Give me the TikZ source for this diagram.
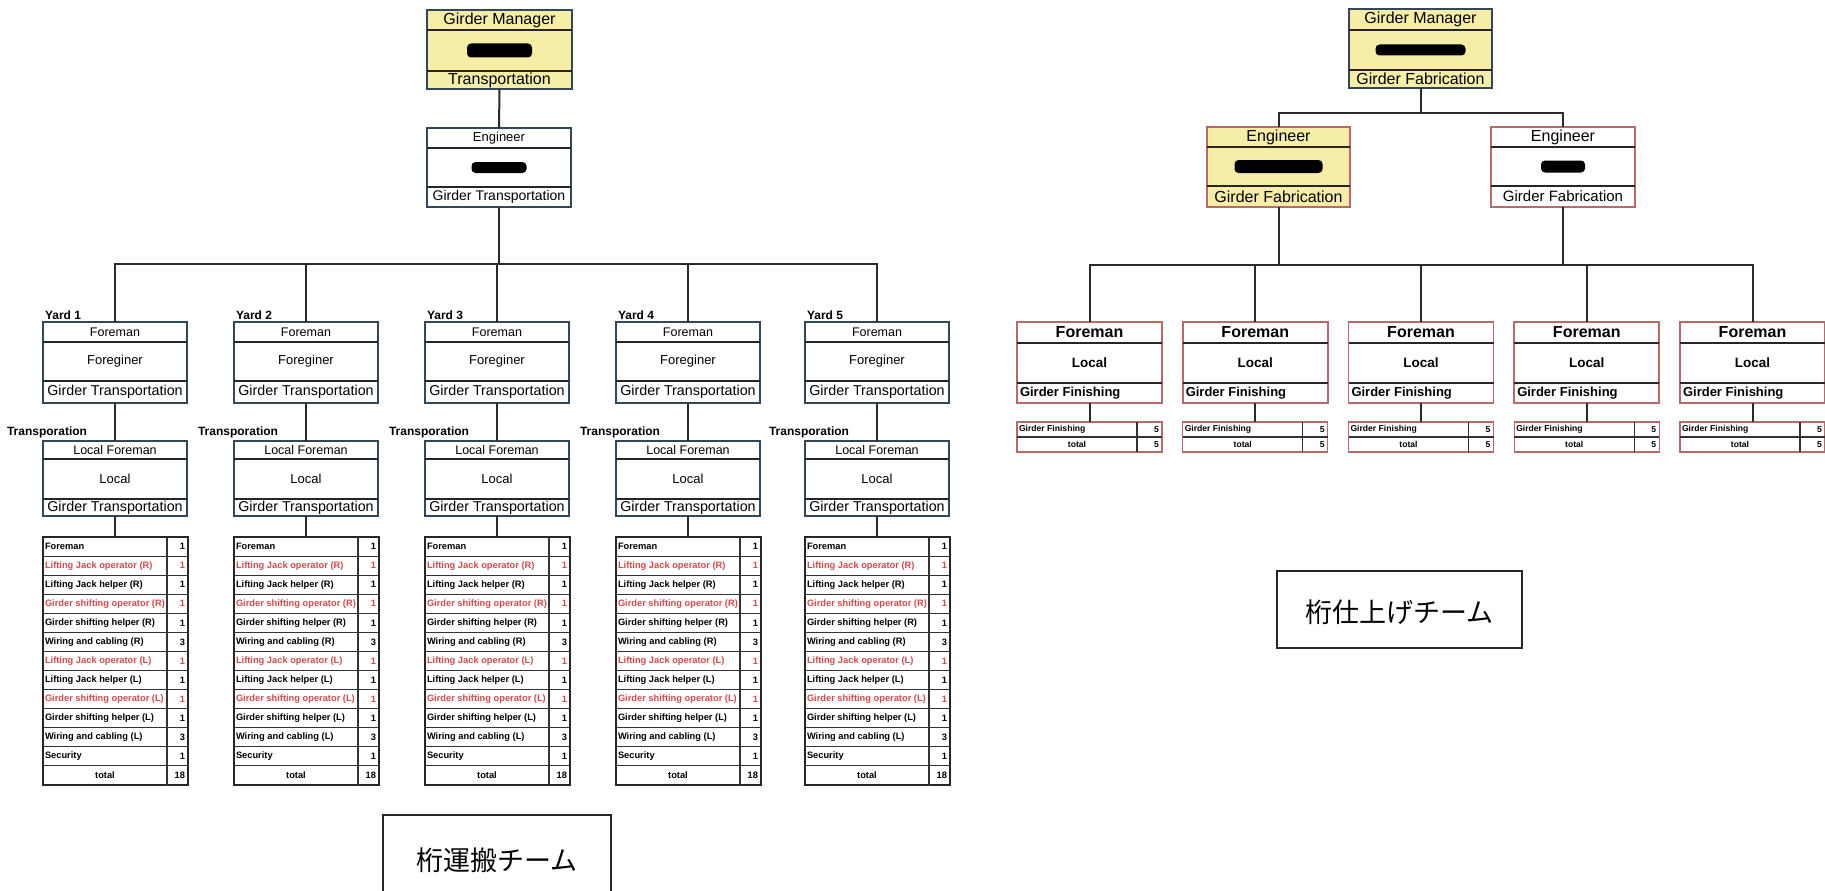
\documentclass[tikz,border=0pt]{standalone}
\usepackage{fontspec}
\setmainfont{Liberation Sans}
\newfontfamily\jpfont{Noto Sans CJK JP}
\definecolor{yfill}{HTML}{F6EEA6}
\definecolor{lborder}{HTML}{33475B}
\definecolor{rborder}{HTML}{B86A6A}
\definecolor{redtxt}{HTML}{D44A4A}
\definecolor{connc}{HTML}{2A2A2A}
\newcommand\FS[1]{\fontsize{#1}{#1}\selectfont}
\newcommand\TriFrame[8]{%
  \node[#2, minimum width=#5, minimum height=#6+#7+#8] (#1) at (#3,#4) {};
  \draw[divline] ([yshift=-#6]#1.north west) -- ([yshift=-#6]#1.north east);
  \draw[divline] ([yshift=-#6-#7]#1.north west) -- ([yshift=-#6-#7]#1.north east);
  \coordinate (#1-r1) at ([yshift=-#6/2]#1.north);
  \coordinate (#1-r2) at ([yshift=-#6-#7/2]#1.north);
  \coordinate (#1-r3) at ([yshift=-#6-#7-#8/2]#1.north);
  \coordinate (#1-w3) at ([xshift=3,yshift=-#6-#7-#8/2]#1.north west);
}
\begin{document}
\begin{tikzpicture}[x=1pt,y=-1pt,
  lbox/.style={draw=lborder, line width=1.6, fill=white, inner sep=0, outer sep=0, anchor=north, rectangle},
  lyel/.style={lbox, fill=yfill},
  rbox/.style={draw=rborder, line width=1.6, fill=white, inner sep=0, outer sep=0, anchor=north, rectangle},
  ryel/.style={rbox, fill=yfill},
  divline/.style={draw=black!85, line width=1.3},
  tabline/.style={draw=black!80, line width=1.1},
  tabbox/.style={draw=black!85, line width=1.4, fill=white, inner sep=0, outer sep=0, anchor=north, rectangle},
  rtab/.style={draw=rborder, line width=1.4, fill=white, inner sep=0, outer sep=0, anchor=north, rectangle},
  conn/.style={draw=connc, line width=2},
  redact/.style={fill=black, rounded corners=4, inner sep=0, draw=none},
  txt/.style={inner sep=0, outer sep=0},
  tabtxt/.style={inner sep=0, outer sep=0, font=\bfseries\FS{9.3}},
  rtabtxt/.style={inner sep=0, outer sep=0, font=\bfseries\FS{8.6}},
  kbox/.style={draw=black!85, line width=1.5, inner sep=0, fill=white, anchor=north}]
\useasboundingbox (0,0) rectangle (1825,891);
\fill[white] (0,0) rectangle (1825,891);

% ---------- left: transportation ----------
\TriFrame{gm1}{lyel}{499.5}{10}{145}{20}{41}{18}
\node[txt,font=\FS{16}] (gm1-a) at (gm1-r1) {Girder Manager};
\node[redact, minimum width=65, minimum height=14] (gm1-x) at (gm1-r2) {};
\node[txt,font=\FS{16}] (gm1-c) at (gm1-r3) {Transportation};

\TriFrame{e1}{lbox}{499}{128}{144}{20}{39}{20}
\node[txt,font=\FS{13}] (e1-a) at (e1-r1) {Engineer};
\node[redact, minimum width=55, minimum height=11] (e1-x) at (e1-r2) {};
\node[txt,font=\FS{14}] (e1-c) at (e1-r3) {Girder Transportation};

\draw[conn] (gm1.south) -- (e1.north);
\coordinate (bar1) at (0,264);

\foreach \i/\cx in {1/115,2/306,3/497,4/688,5/877}{
  \TriFrame{y\i}{lbox}{\cx}{322}{144}{20}{39}{22}
  \node[txt, font=\FS{12.5}] (y\i-a) at (y\i-r1) {Foreman};
  \node[txt, font=\FS{13}] (y\i-b) at (y\i-r2) {Foreginer};
  \node[txt, font=\FS{14.3}] (y\i-c) at (y\i-r3) {Girder Transportation};
  \node[txt, font=\bfseries\FS{12}, anchor=south west] (y\i-lab) at ([xshift=2,yshift=2]y\i.north west) {Yard \i};
  \TriFrame{l\i}{lbox}{\cx}{441}{144}{18}{40}{17}
  \node[txt, font=\FS{12.5}] (l\i-a) at (l\i-r1) {Local Foreman};
  \node[txt, font=\FS{13}] (l\i-b) at (l\i-r2) {Local};
  \node[txt, font=\FS{14.3}] (l\i-c) at (l\i-r3) {Girder Transportation};
  \node[txt, font=\bfseries\FS{12}, anchor=west] (l\i-lab) at (\cx-108,432) {Transporation};
  \draw[conn] (y\i.south) -- (l\i.north);
  \node[tabbox, minimum width=145, minimum height=248] (t\i) at (\cx+0.5,537) {};
  \draw[tabline] ([xshift=124]t\i.north west) -- ([xshift=124]t\i.south west);
  \foreach \j in {1,...,12} {\draw[tabline] ([yshift=-\j*19.077]t\i.north west) -- ([yshift=-\j*19.077]t\i.north east);}
  \foreach \j/\txt/\num/\col in {1/Foreman/1/black,
      2/Lifting Jack operator (R)/1/redtxt,
      3/Lifting Jack helper (R)/1/black,
      4/Girder shifting operator (R)/1/redtxt,
      5/Girder shifting  helper (R)/1/black,
      6/Wiring and cabling (R)/3/black,
      7/Lifting Jack operator (L)/1/redtxt,
      8/Lifting Jack helper (L)/1/black,
      9/Girder shifting operator (L)/1/redtxt,
      10/Girder shifting  helper (L)/1/black,
      11/Wiring and cabling (L)/3/black,
      12/Security/1/black}{
    \node[tabtxt, text=\col, anchor=west] (t\i-a\j) at ([xshift=2,yshift=-\j*19.077+9.54]t\i.north west) {\txt};
    \node[tabtxt, text=\col, anchor=east] (t\i-n\j) at ([xshift=-3,yshift=-\j*19.077+9.54]t\i.north east) {\num};
  }
  \node[tabtxt] (t\i-tot) at ([xshift=62,yshift=-238.46]t\i.north west) {total};
  \node[tabtxt, anchor=east] (t\i-totn) at ([xshift=-3,yshift=-238.46]t\i.north east) {18};
  \draw[conn] (l\i.south) -- (l\i.south |- t\i.north);
}
\draw[conn] (e1.south) -- (e1.south |- bar1);
\draw[conn] (y1.north) -- (y1.north |- bar1) -- (y5.north |- bar1) -- (y5.north);
\foreach \i in {2,3,4}{\draw[conn] (y\i.north |- bar1) -- (y\i.north);}

% ---------- right: fabrication ----------
\TriFrame{gm2}{lyel}{1420.5}{9}{143}{21}{40}{18}
\node[txt,font=\FS{16}] (gm2-a) at (gm2-r1) {Girder Manager};
\node[redact, minimum width=90, minimum height=11] (gm2-x) at (gm2-r2) {};
\node[txt,font=\FS{16}] (gm2-c) at (gm2-r3) {Girder Fabrication};

\TriFrame{e2l}{ryel}{1278.5}{127}{143}{20}{39}{21}
\node[txt,font=\FS{16}] (e2l-a) at (e2l-r1) {Engineer};
\node[redact, minimum width=88, minimum height=13] (e2l-x) at (e2l-r2) {};
\node[txt,font=\FS{16}] (e2l-c) at (e2l-r3) {Girder Fabrication};

\TriFrame{e2r}{rbox}{1563}{127}{144}{20}{39}{21}
\node[txt,font=\FS{16}] (e2r-a) at (e2r-r1) {Engineer};
\node[redact, minimum width=44, minimum height=12] (e2r-x) at (e2r-r2) {};
\node[txt,font=\FS{15}] (e2r-c) at (e2r-r3) {Girder Fabrication};

\coordinate (bar2) at (0,113);
\coordinate (bar3) at (0,265);
\draw[conn] (gm2.south) -- (gm2.south |- bar2);
\draw[conn] (e2l.north) -- (e2l.north |- bar2) -- (e2r.north |- bar2) -- (e2r.north);

\foreach \i in {0,...,4}{
  \pgfmathsetmacro\cx{1089.5+165.75*\i}
  \TriFrame{f\i}{rbox}{\cx}{322}{145}{21}{40}{20}
  \node[txt, font=\bfseries\FS{16}] (f\i-a) at (f\i-r1) {Foreman};
  \node[txt, font=\bfseries\FS{13.5}] (f\i-b) at (f\i-r2) {Local};
  \node[txt, font=\bfseries\FS{13}, anchor=west] (f\i-c) at (f\i-w3) {Girder Finishing};
  \node[rtab, minimum width=145, minimum height=30] (g\i) at (\cx,422) {};
  \draw[tabline] ([xshift=120]g\i.north west) -- ([xshift=120]g\i.south west);
  \draw[tabline] (g\i.west) -- (g\i.east);
  \node[rtabtxt, anchor=west] (g\i-a) at ([xshift=2,yshift=-7.5]g\i.north west) {Girder Finishing};
  \node[rtabtxt, anchor=east] (g\i-an) at ([xshift=-3,yshift=-7.5]g\i.north east) {5};
  \node[rtabtxt] (g\i-b) at ([xshift=60,yshift=-22.5]g\i.north west) {total};
  \node[rtabtxt, anchor=east] (g\i-bn) at ([xshift=-3,yshift=-22.5]g\i.north east) {5};
  \draw[conn] (f\i.south) -- (g\i.north);
}
\draw[conn] (e2l.south) -- (e2l.south |- bar3);
\draw[conn] (e2r.south) -- (e2r.south |- bar3);
\draw[conn] (f0.north) -- (f0.north |- bar3) -- (f4.north |- bar3) -- (f4.north);
\foreach \i in {1,2,3}{\draw[conn] (f\i.north |- bar3) -- (f\i.north);}

% ---------- captions ----------
\node[kbox, minimum width=228, minimum height=100] (k1) at (497,814) {};
\node[txt, font=\jpfont\FS{27}] (k1t) at (497,860) {桁運搬チーム};
\node[kbox, minimum width=245, minimum height=77] (k2) at (1399.5,570) {};
\node[txt, font=\jpfont\FS{27}] (k2t) at (1399.5,612) {桁仕上げチーム};
\end{tikzpicture}
\end{document}
